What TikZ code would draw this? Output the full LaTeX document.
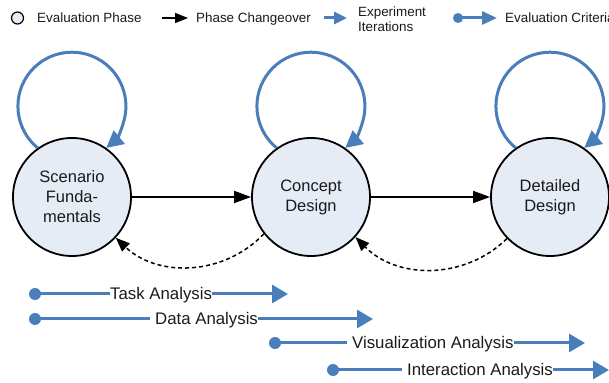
\documentclass[tikz,border=0pt]{standalone}
\usepackage{fontspec}
\setmainfont{Liberation Sans}
\usetikzlibrary{arrows.meta}
\definecolor{flowblue}{HTML}{4A7EBB}
\definecolor{phasefill}{HTML}{E6ECF6}
\definecolor{inktext}{HTML}{1A1A1A}

\begin{document}
\begin{tikzpicture}[x=1pt,y=1pt,
  phasenode/.style={circle, draw=black, line width=1.8pt, fill=phasefill,
    minimum size=118pt, inner sep=0pt, align=center, text=inktext,
    font=\fontsize{16.5}{20}\selectfont},
  changeover/.style={draw=black, line width=1.6pt, -{Triangle[length=17pt,width=12pt]}},
  iteration/.style={draw=flowblue, line width=3pt, -{Triangle[length=17pt,width=17pt]}},
  fallback/.style={draw=black, line width=1.5pt, dash pattern=on 4pt off 3pt,
    -{Triangle[length=14pt,width=11pt]}},
  critdot/.style={circle, fill=flowblue, minimum size=12pt, inner sep=0pt},
  critline/.style={draw=flowblue, line width=3pt},
  critarrow/.style={critline, -{Triangle[length=16pt,width=18pt]}},
  critlabel/.style={inner sep=0pt, anchor=west, text height=12pt, text depth=0pt,
    text=inktext, font=\fontsize{16.8}{20}\selectfont},
  leglabel/.style={inner sep=0pt, anchor=west, text height=9.6pt, text depth=0pt,
    text=inktext, font=\fontsize{13.4}{15}\selectfont},
  legphase/.style={circle, draw=black, line width=1.2pt, fill=phasefill,
    minimum size=12pt, inner sep=0pt},
]
\useasboundingbox (0,0) rectangle (609,382);

% evaluation phases
\node[phasenode] (sf) at (72,185) {Scenario\\Funda-\\mentals};
\node[phasenode] (cd) at (311,185) {Concept\\Design};
\node[phasenode] (dd) at (550,185) {Detailed\\Design};

% experiment iterations (self loops)
\foreach \n in {sf,cd,dd}
  \draw[iteration] (\n.125) arc[start angle=230.6, end angle=-50.6, radius=54];

% phase changeovers and fall-backs
\draw[changeover] (sf) -- (cd);
\draw[changeover] (cd) -- (dd);
\draw[fallback] (cd.218) to[bend left=45] (sf.-43);
\draw[fallback] (dd.224) to[bend left=45] (cd.-42);

% legend
\node[legphase] (lp) at (17.5,364) {};
\node[leglabel] (lpt) at (37,364) {Evaluation Phase};
\coordinate (lca) at (162,364);
\coordinate (lcb) at (188,364);
\draw[changeover, line width=1.5pt, -{Triangle[length=13pt,width=10pt]}] (lca) -- (lcb);
\node[leglabel] (lct) at (196,364) {Phase Changeover};
\coordinate (lia) at (324,364);
\coordinate (lib) at (347,364);
\draw[iteration, -{Triangle[length=13pt,width=12pt]}] (lia) -- (lib);
\node[align=left, inner sep=0pt, anchor=west, text=inktext,
  font=\fontsize{13.4}{15}\selectfont] (lit) at (358,362.5) {Experiment\\Iterations};
\node[critdot, minimum size=10pt] (lcd) at (458,364) {};
\coordinate (lce) at (497,364);
\draw[critarrow, -{Triangle[length=15pt,width=13pt]}] (lcd.center) -- (lce);
\node[leglabel] (lect) at (505,364) {Evaluation Criteria};

% evaluation criteria
\node[critdot] (ta0) at (35,88) {};
\node[critlabel] (ta) at (110,88) {Task Analysis};
\coordinate (ta1) at (288,88);
\draw[critline] (ta0.center) -- (ta.west);
\draw[critarrow] (ta.east) -- (ta1);

\node[critdot] (da0) at (35,63) {};
\node[critlabel] (da) at (155,63) {Data Analysis};
\coordinate (da1) at (373,63);
\draw[critline] (da0.center) -- ([xshift=-5pt]da.west);
\draw[critarrow] (da.east) -- (da1);

\node[critdot] (va0) at (275,39) {};
\node[critlabel] (va) at (352,39) {Visualization Analysis};
\coordinate (va1) at (585,39);
\draw[critline] (va0.center) -- ([xshift=-5pt]va.west);
\draw[critarrow] (va.east) -- (va1);

\node[critdot] (ia0) at (333,12) {};
\node[critlabel] (ia) at (407,12) {Interaction Analysis};
\coordinate (ia1) at (609,12);
\draw[critline] (ia0.center) -- ([xshift=-5pt]ia.west);
\draw[critarrow] (ia.east) -- (ia1);
\end{tikzpicture}
\end{document}
